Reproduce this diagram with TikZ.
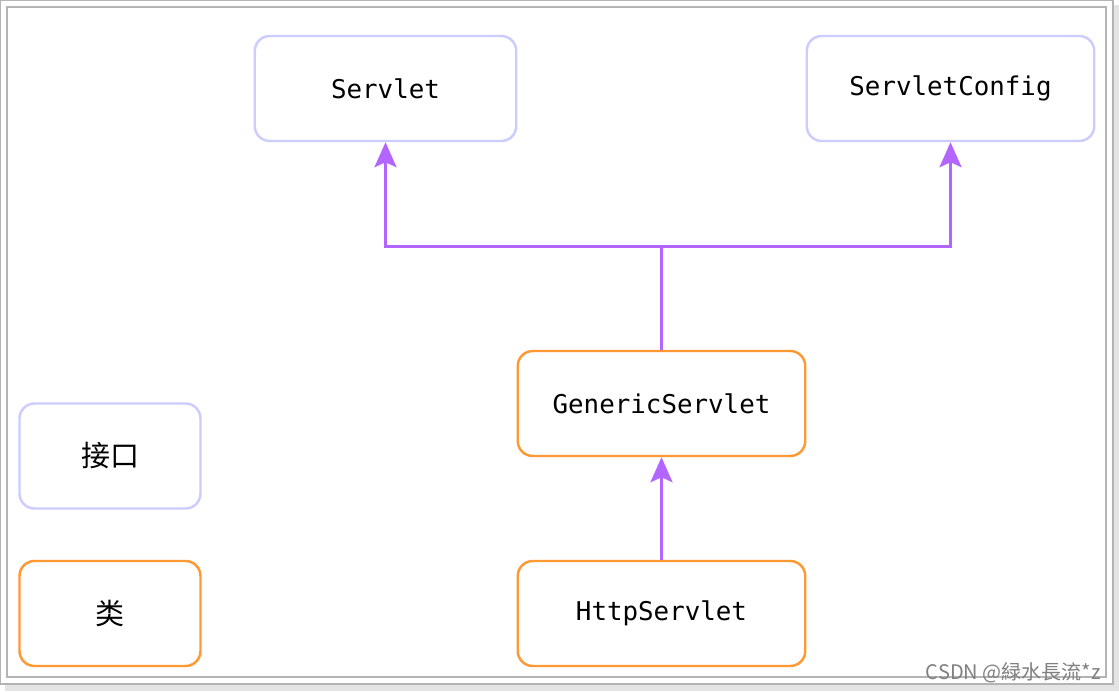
\documentclass[tikz,border=0pt]{standalone}
\usepackage{fontspec}
\usetikzlibrary{arrows.meta}
\setmonofont{DejaVu Sans Mono}
\newfontfamily\cjk{Noto Sans CJK SC}
\definecolor{ifacecol}{HTML}{CCCCFF}
\definecolor{classcol}{HTML}{FF9933}
\definecolor{linkcol}{HTML}{B266FF}
\definecolor{framecol}{HTML}{B4B4B4}
\definecolor{shadecol}{HTML}{E4E4E4}

\tikzset{
	box/.style = {line width=1.4pt, rounded corners=0.3cm, minimum height=2.1cm, minimum width=5.75cm, font=\ttfamily\fontsize{14.7}{16}\selectfont},
	ifacebox/.style = {box, draw=ifacecol},
	classbox/.style = {box, draw=classcol},
	keybox/.style = {minimum width=3.62cm, font=\cjk\fontsize{16.5}{18}\selectfont},
	inherit/.style = {draw=linkcol, line width=1.7pt, -{Stealth[length=0.5cm, width=0.44cm, inset=0.1cm]}}
}

\begin{document}
\begin{tikzpicture}
		\useasboundingbox (0,0) rectangle (22.38,13.82);
		\fill[shadecol] (0.1,0) rectangle (22.38,13.72);
		\filldraw[fill=white, draw=framecol, line width=0.8pt] (0,0.14) rectangle (22.26,13.82);
		\draw[framecol, line width=0.6pt] (0.14,0.28) rectangle (22.12,13.68);

		\draw (7.71,12.05) node[ifacebox, minimum width=5.23cm] (servlet) {Servlet};
		\draw (19.01,12.05) node[ifacebox] (config) {ServletConfig};
		\draw (13.23,5.75) node[classbox] (generic) {GenericServlet};
		\draw (13.23,1.55) node[classbox] (http) {HttpServlet};

		\draw (2.2,4.7) node[ifacebox, keybox] (keyiface) {接口};
		\draw (2.2,1.55) node[classbox, keybox] (keyclass) {类};

		\coordinate (split) at (13.23,8.89);
		\draw [linkcol, line width=1.7pt] (generic.north) -- (split);
		\draw [inherit] (split) -| (servlet.south);
		\draw [inherit] (split) -| (config.south);
		\draw [inherit] (http.north) -- (generic.south);

		\draw (22.14,0.24) node[anchor=base east, text=gray, font=\cjk\fontsize{11.4}{13}\selectfont] (mark) {CSDN @緑水長流*z};
	\end{tikzpicture}
\end{document}
